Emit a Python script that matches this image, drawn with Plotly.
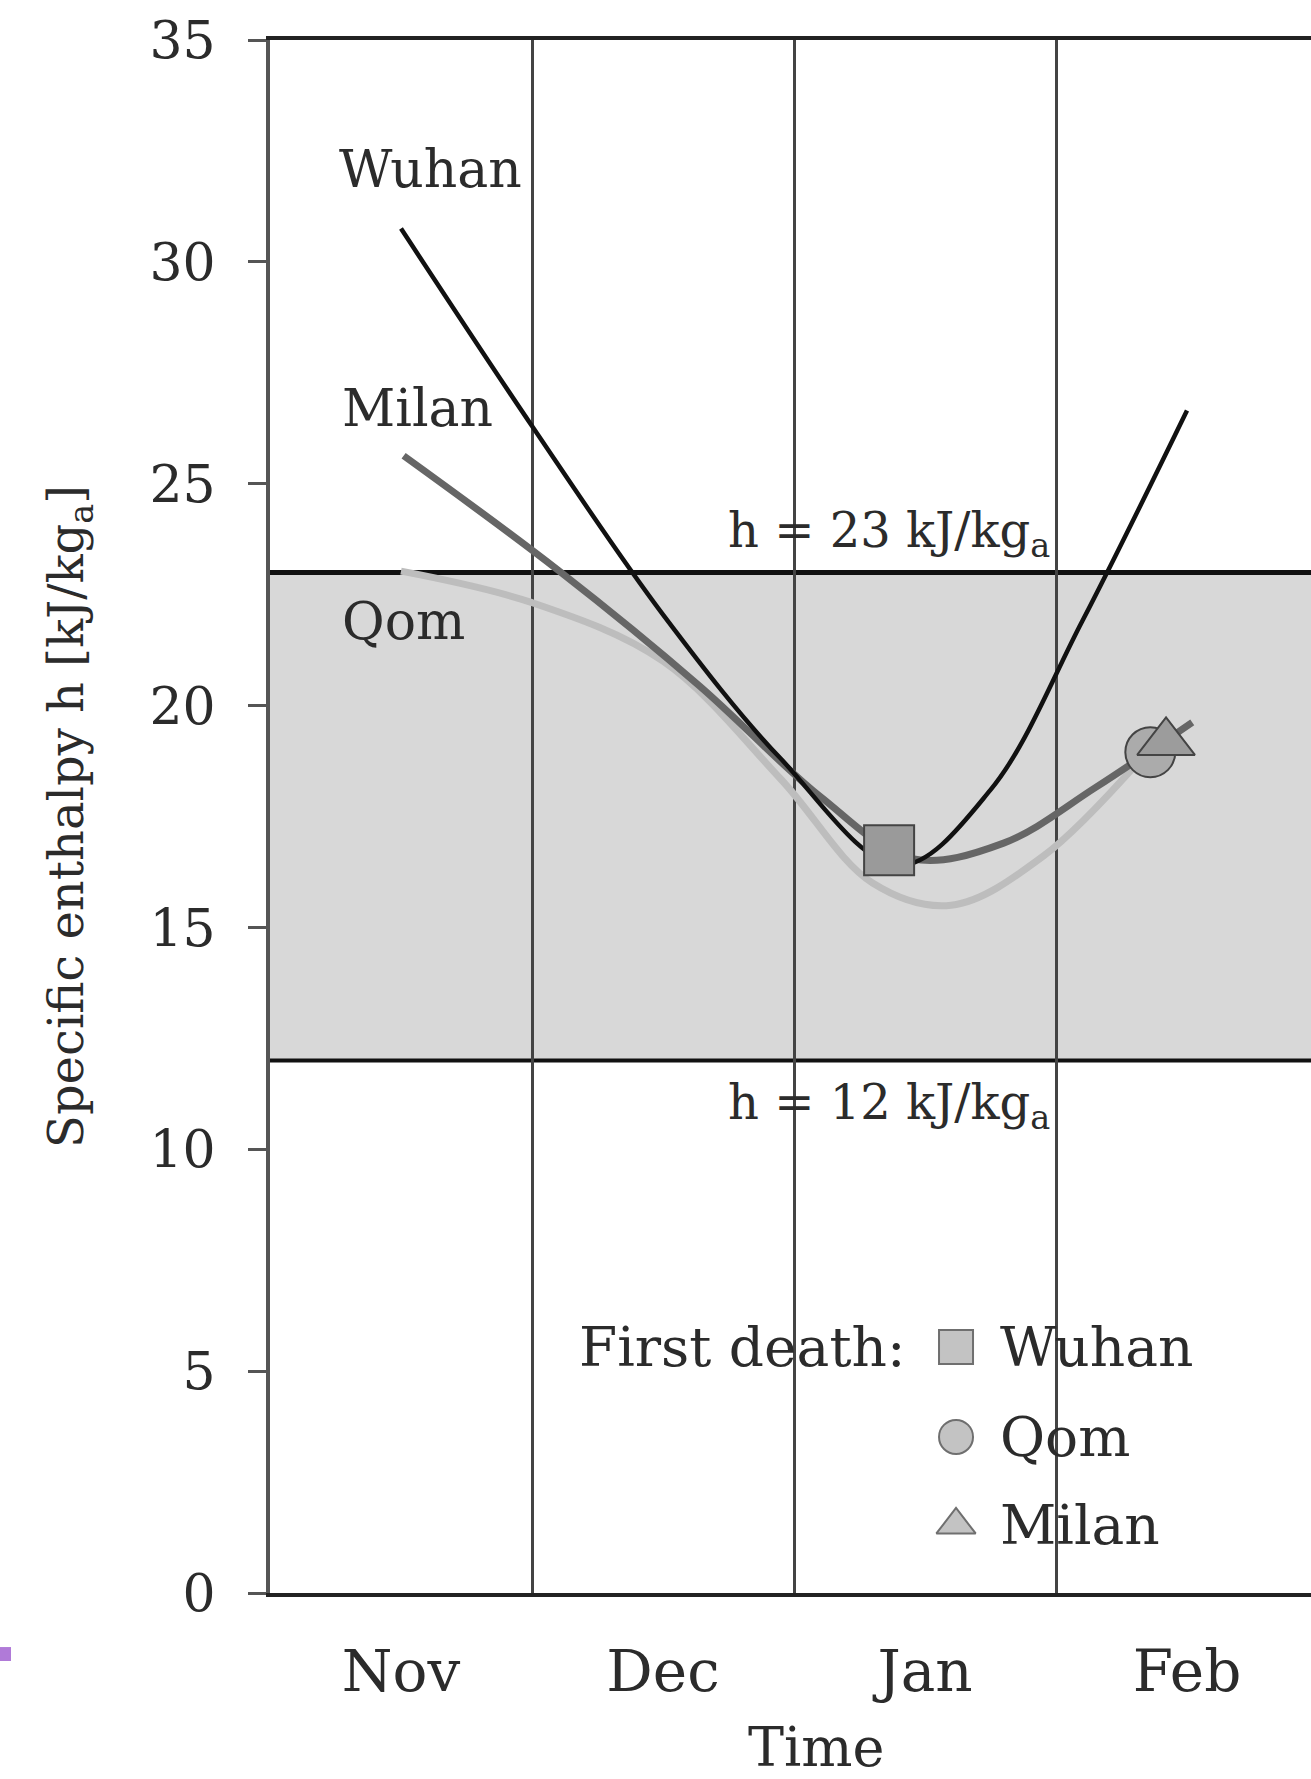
import plotly.graph_objects as go

# ---------------- data ----------------
months = ["Nov", "Dec", "Jan", "Feb"]
month_pos = [0.5, 1.5, 2.5, 3.5]
month_bounds = [1, 2, 3]

wuhan_x = [0.5, 1.0, 1.5, 1.95, 2.4, 2.75, 3.1, 3.5]
wuhan_y = [30.75, 26.3, 22.05, 18.8, 16.4, 18.1, 21.9, 26.65]

milan_x = [0.51, 1.1, 1.64, 2.1, 2.45, 2.8, 3.15, 3.52]
milan_y = [25.63, 23.05, 20.44, 17.95, 16.55, 16.9, 18.15, 19.62]

qom_x = [0.5, 1.0, 1.5, 1.95, 2.3, 2.6, 2.95, 3.34]
qom_y = [23.03, 22.32, 21.0, 18.34, 16.0, 15.5, 16.6, 18.9]

death_city = ["Wuhan", "Qom", "Milan"]
death_x = [2.363, 3.36, 3.42]
death_y = [16.74, 18.95, 19.17]

threshold_hi = 23
threshold_lo = 12

y_ticks = [0, 5, 10, 15, 20, 25, 30, 35]

# ---------------- styles ----------------
FONT = "DejaVu Serif"
TXT = "#2b2b2b"
SMOOTH = 1.0

fig = go.Figure()

fig.add_trace(go.Scatter(x=qom_x, y=qom_y, mode="lines",
                         line=dict(color="#bdbdbd", width=7, shape="spline", smoothing=SMOOTH),
                         showlegend=False, hoverinfo="skip"))
fig.add_trace(go.Scatter(x=milan_x, y=milan_y, mode="lines",
                         line=dict(color="#666666", width=7, shape="spline", smoothing=SMOOTH),
                         showlegend=False, hoverinfo="skip"))
fig.add_trace(go.Scatter(x=wuhan_x, y=wuhan_y, mode="lines",
                         line=dict(color="#111111", width=4.5, shape="spline", smoothing=SMOOTH),
                         showlegend=False, hoverinfo="skip"))

symbols = {"Wuhan": "square", "Qom": "circle", "Milan": "triangle-up"}
sizes = {"Wuhan": 50, "Qom": 50, "Milan": 50}
fills = {"Wuhan": "#9a9a9a", "Qom": "#ababab", "Milan": "#9c9c9c"}
for c, xv, yv in zip(death_city, death_x, death_y):
    fig.add_trace(go.Scatter(x=[xv], y=[yv], mode="markers",
                             marker=dict(symbol=symbols[c], size=sizes[c], color=fills[c],
                                         line=dict(color="#444444", width=2)),
                             showlegend=False, hoverinfo="skip"))

# manual legend (keys on an overlay axis spanning the plot area)
leg_x = 0.659
leg_rows = [0.1584, 0.1005, 0.0438]
leg_sym = [symbols[c] for c in death_city]
fig.add_trace(go.Scatter(x=[leg_x] * 3, y=leg_rows, mode="markers", xaxis="x2", yaxis="y2",
                         marker=dict(symbol=leg_sym, size=[34, 34, 34], color="#ababab",
                                     line=dict(color="#333333", width=2)),
                         showlegend=False, hoverinfo="skip", cliponaxis=False))

ann = []
ann.append(dict(xref="paper", yref="paper", x=0.612, y=leg_rows[0], xanchor="right", yanchor="middle",
                text="First death:", showarrow=False, font=dict(family=FONT, size=55, color=TXT)))
for c, yy in zip(death_city, leg_rows):
    ann.append(dict(xref="paper", yref="paper", x=0.699, y=yy, xanchor="left", yanchor="middle",
                    text=c, showarrow=False, font=dict(family=FONT, size=55, color=TXT)))

# curve labels
for txt, xx, yy in [("Wuhan", 0.256, 32.1), ("Milan", 0.267, 26.7), ("Qom", 0.267, 21.9)]:
    ann.append(dict(x=xx, y=yy, xref="x", yref="y", xanchor="left", yanchor="middle", text=txt,
                    showarrow=False, font=dict(family=FONT, size=52, color=TXT)))

# threshold labels
ann.append(dict(x=1.74, y=threshold_hi + 0.87, xref="x", yref="y", xanchor="left", yanchor="middle",
                text="h = %d kJ/kg<sub>a</sub>" % threshold_hi, showarrow=False,
                font=dict(family=FONT, size=48, color=TXT)))
ann.append(dict(x=1.74, y=threshold_lo - 1.01, xref="x", yref="y", xanchor="left", yanchor="middle",
                text="h = %d kJ/kg<sub>a</sub>" % threshold_lo, showarrow=False,
                font=dict(family=FONT, size=48, color=TXT)))

# x title
ann.append(dict(xref="paper", yref="paper", x=0.5245, y=-0.0995, xanchor="center", yanchor="middle",
                text="Time", showarrow=False, font=dict(family=FONT, size=54, color=TXT)))

shapes = [
    dict(type="rect", xref="paper", yref="y", x0=0, x1=1, y0=threshold_lo, y1=threshold_hi,
         fillcolor="#d8d8d8", line=dict(width=0), layer="below"),
    dict(type="line", xref="paper", yref="y", x0=0, x1=1, y0=threshold_hi, y1=threshold_hi,
         line=dict(color="#111111", width=5), layer="between"),
    dict(type="line", xref="paper", yref="y", x0=0, x1=1, y0=threshold_lo, y1=threshold_lo,
         line=dict(color="#111111", width=4), layer="between"),
    # small purple artefact at the left edge of the source image
    dict(type="rect", xref="paper", yref="paper", x0=-0.2594, x1=-0.2488, y0=-0.0438, y1=-0.0348,
         fillcolor="#b07ad8", line=dict(width=0)),
]

fig.update_layout(
    width=1311, height=1779,
    margin=dict(l=270, r=0, t=40, b=186, pad=0),
    paper_bgcolor="white", plot_bgcolor="white",
    showlegend=False,
    annotations=ann, shapes=shapes,
    xaxis=dict(range=[0, 1041 / 262], tickvals=month_pos, ticktext=months, ticks="",
               showgrid=False, zeroline=False, showline=True, mirror=True,
               linecolor="#222222", linewidth=4,
               tickfont=dict(family=FONT, size=58, color=TXT), ticklabelstandoff=24,
               minor=dict(tickvals=month_bounds, showgrid=True, gridcolor="#444444", gridwidth=3, ticks="")),
    yaxis=dict(range=[0, 35], tickvals=y_ticks, ticks="outside", ticklen=18, tickwidth=3, tickcolor="#555555",
               showline=True, linecolor="#555555", linewidth=4, showgrid=False, zeroline=False,
               tickfont=dict(family=FONT, size=52, color=TXT), ticklabelstandoff=22,
               title=dict(text="Specific enthalpy h [kJ/kg<sub>a</sub>]", standoff=52,
                          font=dict(family=FONT, size=48, color=TXT))),
    xaxis2=dict(overlaying="x", range=[0, 1], visible=False, fixedrange=True),
    yaxis2=dict(overlaying="y", range=[0, 1], visible=False, fixedrange=True),
)

fig.write_html("out.html")
